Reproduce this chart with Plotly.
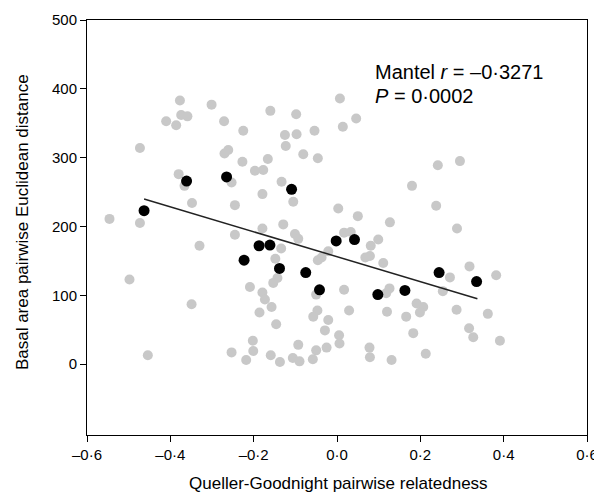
import plotly.graph_objects as go

# Gray points: all pairwise comparisons
gray_x = [-0.377, -0.301, -0.374, -0.359, -0.410, -0.386, -0.271, -0.225, -0.473, -0.270,
          -0.261, -0.227, -0.380, -0.366, -0.253, -0.348, -0.245, -0.546, -0.473, 0.007,
          -0.160, -0.098, 0.046, 0.014, -0.054, -0.125, -0.097, -0.123, -0.081, -0.046,
          -0.166, -0.197, -0.177, -0.133, -0.179, -0.105, 0.003, 0.050, -0.129, -0.179,
          0.127, 0.242, 0.295, 0.180, 0.238, 0.288, -0.330, -0.245, -0.498, -0.349,
          -0.454, -0.253, -0.134, -0.148, -0.101, -0.093, 0.017, 0.033, 0.081, 0.099,
          0.068, 0.079, 0.111, -0.021, -0.046, -0.037, -0.050, 0.017, -0.209, -0.143,
          -0.153, -0.179, -0.173, -0.157, -0.186, -0.146, -0.047, -0.057, -0.021, -0.029,
          0.029, 0.005, 0.006, -0.202, -0.201, -0.218, -0.159, -0.137, -0.093, -0.106,
          -0.090, -0.050, -0.025, -0.058, 0.078, 0.079, 0.318, 0.382, 0.271, 0.254,
          0.287, 0.362, 0.317, 0.327, 0.391, 0.213, 0.183, 0.166, 0.191, 0.207,
          0.199, 0.120, 0.126, 0.118, 0.131]
gray_y = [383, 377, 362, 360, 353, 347, 353, 339, 314, 306,
          311, 294, 276, 259, 264, 234, 231, 211, 205, 386,
          368, 363, 357, 345, 339, 333, 334, 317, 305, 299,
          298, 281, 282, 265, 247, 236, 226, 215, 203, 197,
          206, 289, 295, 259, 230, 197, 172, 188, 123, 87,
          13, 17, 168, 153, 189, 182, 191, 192, 172, 181,
          155, 157, 147, 164, 151, 155, 101, 108, 112, 125,
          118, 104, 94, 83, 75, 58, 78, 69, 64, 49,
          78, 42, 30, 34, 19, 6, 13, 3, 28, 9,
          4, 20, 24, 7, 24, 10, 142, 129, 126, 106,
          79, 73, 52, 39, 34, 15, 45, 69, 88, 83,
          75, 76, 110, 103, 6]

# Black points: highlighted comparisons
black_x = [-0.463, -0.361, -0.265, -0.109, -0.223, -0.187, -0.161, -0.138,
           -0.075, -0.042, -0.002, 0.042, 0.098, 0.163, 0.245, 0.335]
black_y = [223, 266, 272, 254, 151, 172, 173, 139,
           133, 108, 179, 181, 101, 107, 133, 120]

# Fitted regression line (end points)
fit_x = [-0.463, 0.337]
fit_y = [240, 95]

x_tickvals = [-0.6, -0.4, -0.2, 0.0, 0.2, 0.4, 0.6]
x_ticktext = ["–0·6", "–0·4", "–0·2", "0·0", "0·2", "0·4", "0·6"]
y_tickvals = [0, 100, 200, 300, 400, 500]
y_ticktext = ["0", "100", "200", "300", "400", "500"]

FONT = "Arial, Liberation Sans, sans-serif"

fig = go.Figure()
fig.add_trace(go.Scatter(x=gray_x, y=gray_y, mode="markers",
                         marker=dict(color="#c8c8c8", size=10, line=dict(width=0)),
                         showlegend=False, hoverinfo="skip"))
fig.add_trace(go.Scatter(x=fit_x, y=fit_y, mode="lines",
                         line=dict(color="#222222", width=1.5),
                         showlegend=False, hoverinfo="skip"))
fig.add_trace(go.Scatter(x=black_x, y=black_y, mode="markers",
                         marker=dict(color="black", size=11, line=dict(width=0)),
                         showlegend=False, hoverinfo="skip"))

fig.add_annotation(x=0.086, y=424, xref="x", yref="y", xanchor="left", yanchor="middle",
                   text="Mantel <i>r</i> = –0·3271", showarrow=False,
                   font=dict(family=FONT, size=20, color="black"))
fig.add_annotation(x=0.086, y=389, xref="x", yref="y", xanchor="left", yanchor="middle",
                   text="<i>P</i> = 0·0002", showarrow=False,
                   font=dict(family=FONT, size=20, color="black"))

# Axis titles placed as annotations
fig.add_annotation(x=0.502, y=-0.116, xref="paper", yref="paper", xanchor="center",
                   yanchor="middle", text="Queller-Goodnight pairwise relatedness",
                   showarrow=False, font=dict(family=FONT, size=17, color="black"))
fig.add_annotation(x=-0.13, y=0.513, xref="paper", yref="paper", xanchor="center",
                   yanchor="middle", textangle=-90,
                   text="Basal area pairwise Euclidean distance",
                   showarrow=False, font=dict(family=FONT, size=17, color="black"))

axis_common = dict(showline=True, linecolor="black", linewidth=1, mirror=True,
                   ticks="outside", ticklen=6, tickcolor="black", tickwidth=1,
                   showgrid=False, zeroline=False, automargin=False,
                   tickfont=dict(family=FONT, size=15, color="black"))

fig.update_xaxes(range=[-0.6, 0.6], tickvals=x_tickvals, ticktext=x_ticktext, **axis_common)
fig.update_yaxes(range=[-103, 500], tickvals=y_tickvals, ticktext=y_ticktext, **axis_common)

# The page body adds an 8px offset, so the figure is sized/margined to compensate
fig.update_layout(width=594, height=485, margin=dict(l=79, r=15, t=12, b=58, autoexpand=False),
                  plot_bgcolor="white", paper_bgcolor="white",
                  font=dict(family=FONT, color="black"))

fig.write_html("out.html")
